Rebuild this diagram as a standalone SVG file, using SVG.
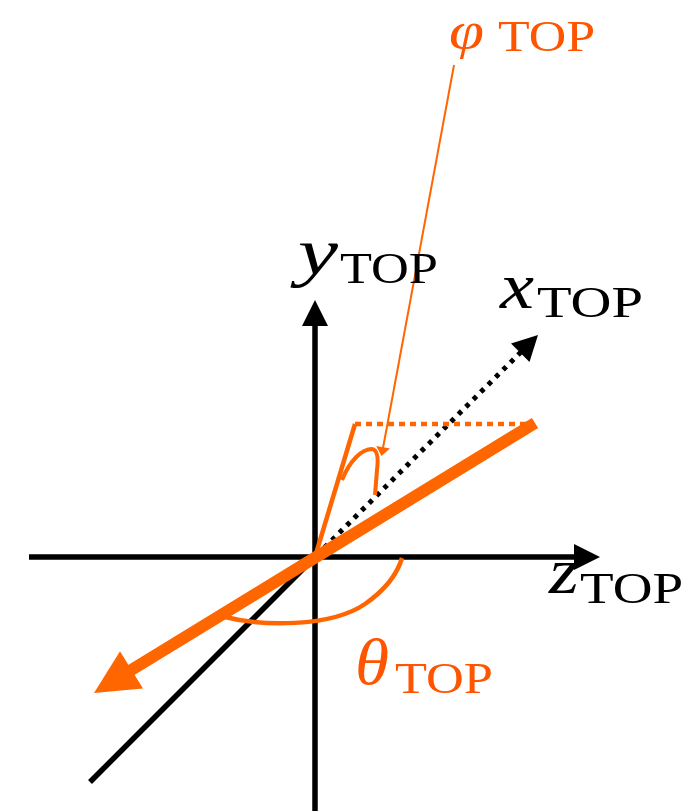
<svg xmlns="http://www.w3.org/2000/svg" width="698" height="811" viewBox="0 0 698 811">
<style>
.ax{stroke:#000;stroke-width:5.5;fill:none}
.ah{fill:#000;stroke:none}
.or{stroke:#FF6600;fill:none}
.ofill{fill:#FF6600;stroke:none}
.m{font-family:"Liberation Serif","Times New Roman",serif;font-style:italic;font-size:66px}
.s{font-family:"Liberation Serif","Times New Roman",serif;font-size:45px}
.blk{fill:#000}
.red{fill:#FF5500}
</style>
<rect width="698" height="811" fill="#fff"/>
<g id="connectors">
  <g id="y-axis">
    <line class="ax" x1="315" y1="811" x2="315" y2="322"/>
    <polygon class="ah" points="315,300 302,326 328,326"/>
  </g>
  <g id="z-axis">
    <line class="ax" x1="29" y1="557" x2="577" y2="557"/>
    <polygon class="ah" points="600,557 574,544 574,570"/>
  </g>
  <g id="diagonal-axis">
    <line class="ax" x1="315" y1="557" x2="90" y2="782"/>
  </g>
  <g id="x-axis">
    <line x1="317" y1="555" x2="521" y2="352" stroke="#000" stroke-width="5" stroke-dasharray="4.5 6"/>
    <polygon class="ah" points="538,335 511,343.5 529.5,362"/>
  </g>
  <g id="projection">
    <line class="or" x1="315" y1="557" x2="355" y2="424" stroke-width="4.5"/>
    <line class="or" x1="355" y1="424" x2="530" y2="424" stroke-width="4.5" stroke-dasharray="6 5"/>
  </g>
  <g id="vector">
    <line class="or" x1="535" y1="423" x2="128" y2="672" stroke-width="12"/>
    <polygon class="ofill" points="94,693 143,688.6 120,651.2"/>
  </g>
  <g id="theta-arc">
    <path class="or" stroke-width="4.5" d="M225,617 C260,626 330,628 365,604 C385,590 397,575 402,558"/>
  </g>
  <g id="phi-arc">
    <path class="or" stroke-width="4" d="M342,480 C350,460 362,449 372,449 C379,450 378,462 377,470 L375,495"/>
  </g>
  <g id="phi-leader">
    <line class="or" x1="454" y1="65" x2="383" y2="448" stroke-width="2"/>
    <polygon class="ofill" points="381.5,456 390,448.5 376.2,445.9"/>
  </g>
</g>
<g id="label-phi">
  <text class="red" x="449" y="48" font-family="Liberation Serif, serif" font-style="italic" font-size="52" textLength="35" lengthAdjust="spacingAndGlyphs">φ</text>
  <text class="s red" x="498" y="51" textLength="97" lengthAdjust="spacingAndGlyphs">TOP</text>
</g>
<g id="label-y">
  <text class="m blk" x="298" y="274" textLength="40" lengthAdjust="spacingAndGlyphs">y</text>
  <text class="s blk" x="340" y="283" textLength="98" lengthAdjust="spacingAndGlyphs">TOP</text>
</g>
<g id="label-x">
  <text class="m blk" x="500" y="308" textLength="34" lengthAdjust="spacingAndGlyphs">x</text>
  <text class="s blk" x="537" y="317" textLength="106" lengthAdjust="spacingAndGlyphs">TOP</text>
</g>
<g id="label-z">
  <text class="m blk" x="549" y="593" textLength="30" lengthAdjust="spacingAndGlyphs">z</text>
  <text class="s blk" x="580" y="603" textLength="103" lengthAdjust="spacingAndGlyphs">TOP</text>
</g>
<g id="label-theta">
  <text class="m red" x="355" y="684" textLength="34" lengthAdjust="spacingAndGlyphs">θ</text>
  <text class="s red" x="395" y="693" textLength="98" lengthAdjust="spacingAndGlyphs">TOP</text>
</g>
</svg>
